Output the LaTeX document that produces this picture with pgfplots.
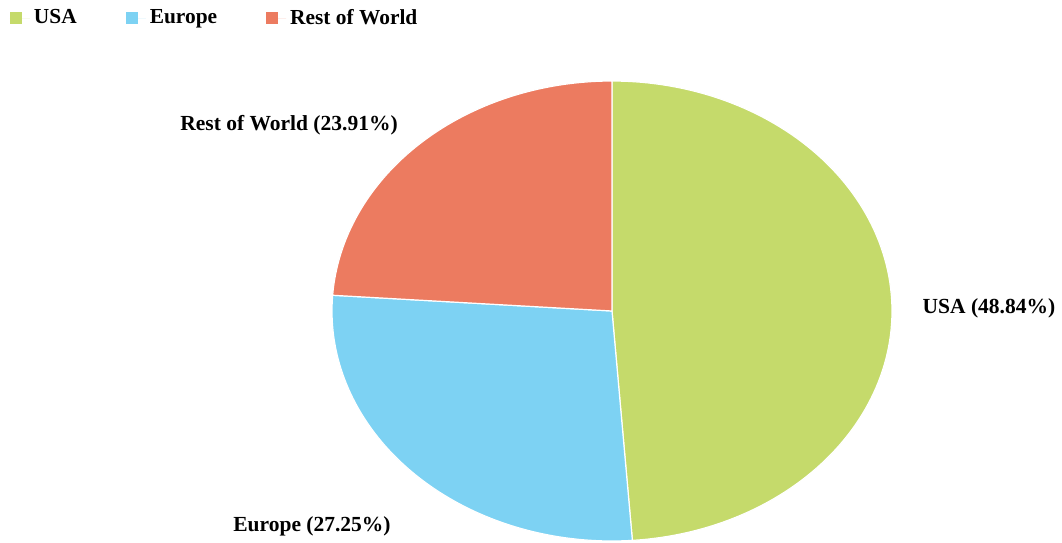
\documentclass[border=0pt]{standalone}
\usepackage{pgfplots}
\usepackage{pgfplotstable}
\pgfplotsset{compat=1.18}
\usepackage{fontspec}
\setmainfont{Liberation Serif}
\definecolor{usa}{RGB}{197,218,107}
\definecolor{europe}{RGB}{125,210,243}
\definecolor{row}{RGB}{236,123,96}
\pgfplotstableread{
region share
USA 48.84
Europe 27.25
Rest 23.91
}\sharetable
\begin{document}
\begin{tikzpicture}
\pgfplotstablegetelem{0}{share}\of\sharetable \let\sUSA\pgfplotsretval
\pgfplotstablegetelem{1}{share}\of\sharetable \let\sEUR\pgfplotsretval
\pgfplotstablegetelem{2}{share}\of\sharetable \let\sROW\pgfplotsretval
\pgfmathsetmacro\aA{90}
\pgfmathsetmacro\aB{90-\sUSA*3.6}
\pgfmathsetmacro\aC{\aB-\sEUR*3.6}
\pgfmathsetmacro\aD{\aC-\sROW*3.6}
\begin{axis}[
  scale only axis, width=531pt, height=271pt,
  xmin=0, xmax=1062, ymin=0, ymax=542,
  hide axis, clip=false,
  font=\fontsize{10.75}{13}\selectfont\bfseries,
  legend style={draw=none, fill=none, at={(axis cs:10,537)}, anchor=north west,
    inner sep=0pt, outer sep=0pt, font=\fontsize{10.7}{12}\selectfont\bfseries,
    /tikz/every even column/.append style={column sep=22.5pt}},
  legend columns=-1,
  legend image code/.code={\path[#1, draw=none] (0pt,-2.8pt) rectangle (6pt,2.8pt); \path[draw=none] (0pt,0pt) -- (10pt,0pt);},
]
\addplot[fill=usa, draw=white, line width=0.6pt, domain=\aA:\aB, samples=120, variable=\t]
  ({612+280*cos(\t)},{231+230*sin(\t)}) -- (612,231) -- cycle;
\addlegendentry{USA}
\addplot[fill=europe, draw=white, line width=0.6pt, domain=\aB:\aC, samples=80, variable=\t]
  ({612+280*cos(\t)},{231+230*sin(\t)}) -- (612,231) -- cycle;
\addlegendentry{Europe}
\addplot[fill=row, draw=white, line width=0.6pt, domain=\aC:\aD, samples=80, variable=\t]
  ({612+280*cos(\t)},{231+230*sin(\t)}) -- (612,231) -- cycle;
\addlegendentry{Rest of World}
\node at (axis cs:289,417) {Rest of World (\sROW\%)};
\node at (axis cs:989,234) {USA (\sUSA\%)};
\node at (axis cs:312,16) {Europe (\sEUR\%)};
\end{axis}
\pgfresetboundingbox
\path[use as bounding box] (current axis.south west) rectangle (current axis.north east);
\end{tikzpicture}
\end{document}
